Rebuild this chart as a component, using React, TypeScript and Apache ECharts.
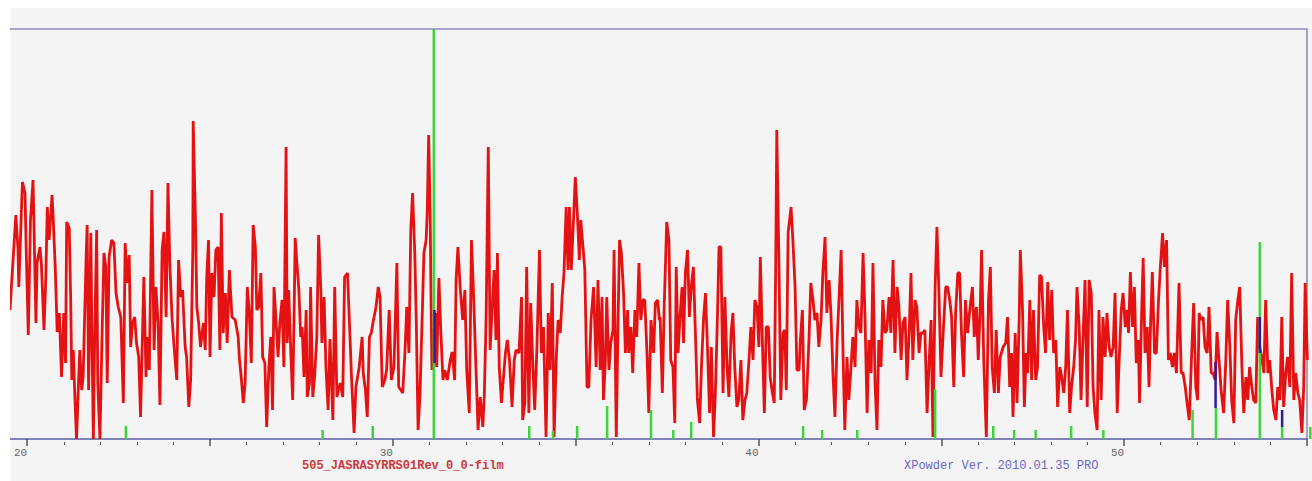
import React, { useEffect, useRef } from "react";
import * as echarts from "echarts";

// Observed XRD pattern: [2θ (deg), intensity (counts, arbitrary)]
const observedPattern: [number, number][] = [
  [19.53,129],[19.69,224],[19.75,189],[19.77,152],[19.87,257],[19.94,246],[19.98,179],[20.03,104],[20.09,219],[20.16,259],
  [20.24,116],[20.27,176],[20.35,192],[20.39,174],[20.46,109],[20.51,162],[20.55,232],[20.60,199],[20.68,244],[20.71,222],
  [20.77,169],[20.82,107],[20.88,126],[20.94,62],[21.00,126],[21.05,76],[21.08,217],[21.15,211],[21.19,139],[21.22,59],
  [21.26,89],[21.31,36],[21.35,0],[21.41,62],[21.44,89],[21.49,49],[21.53,62],[21.61,179],[21.64,214],[21.68,49],
  [21.74,206],[21.77,102],[21.81,0],[21.84,89],[21.90,209],[21.93,56],[21.99,0],[22.04,92],[22.10,186],[22.15,172],
  [22.19,56],[22.24,182],[22.31,199],[22.37,196],[22.43,146],[22.49,132],[22.56,122],[22.63,36],[22.68,196],[22.74,156],
  [22.79,184],[22.83,92],[22.88,116],[22.94,122],[22.99,96],[23.05,82],[23.10,22],[23.19,162],[23.25,62],[23.28,102],
  [23.34,69],[23.41,249],[23.47,89],[23.52,152],[23.58,116],[23.63,34],[23.69,189],[23.74,207],[23.80,122],[23.85,256],
  [23.90,176],[23.96,122],[24.01,96],[24.09,59],[24.14,179],[24.20,142],[24.25,149],[24.32,92],[24.36,82],[24.42,32],
  [24.47,59],[24.53,189],[24.54,318],[24.60,222],[24.64,132],[24.69,116],[24.74,92],[24.82,116],[24.87,89],[24.91,162],
  [24.96,199],[25.00,82],[25.05,166],[25.11,142],[25.16,189],[25.22,192],[25.27,89],[25.31,226],[25.36,106],[25.42,146],
  [25.47,96],[25.53,169],[25.60,122],[25.69,119],[25.77,102],[25.80,82],[25.86,59],[25.91,36],[25.96,56],[26.02,152],
  [26.07,129],[26.13,76],[26.18,214],[26.24,192],[26.28,129],[26.33,132],[26.39,166],[26.44,82],[26.50,76],[26.55,12],
  [26.61,72],[26.66,102],[26.71,29],[26.75,152],[26.80,122],[26.86,82],[26.91,116],[26.97,139],[27.02,72],[27.08,292],
  [27.11,96],[27.15,149],[27.21,86],[27.26,39],[27.30,126],[27.33,201],[27.37,179],[27.43,149],[27.48,102],[27.52,112],
  [27.57,62],[27.63,129],[27.66,42],[27.72,56],[27.75,152],[27.81,42],[27.86,62],[27.92,102],[27.97,204],[28.03,149],
  [28.06,96],[28.12,142],[28.17,72],[28.23,29],[28.28,100],[28.36,19],[28.41,152],[28.47,42],[28.56,56],[28.63,42],
  [28.68,162],[28.76,166],[28.81,119],[28.87,62],[28.94,6],[28.99,52],[29.08,72],[29.16,102],[29.19,66],[29.25,49],
  [29.30,22],[29.36,102],[29.41,106],[29.47,119],[29.54,132],[29.60,152],[29.65,142],[29.71,52],[29.78,59],[29.83,69],
  [29.90,129],[29.96,59],[30.03,72],[30.11,176],[30.16,52],[30.22,49],[30.27,46],[30.33,86],[30.38,132],[30.44,86],
  [30.49,209],[30.54,246],[30.60,186],[30.64,119],[30.69,9],[30.74,42],[30.80,119],[30.85,186],[30.91,199],[30.94,226],
  [30.98,304],[31.02,226],[31.04,152],[31.07,69],[31.16,126],[31.20,72],[31.26,161],[31.31,109],[31.37,59],[31.42,69],
  [31.49,59],[31.57,79],[31.62,87],[31.69,59],[31.73,159],[31.78,192],[31.84,152],[31.91,119],[31.97,149],[32.02,69],
  [32.09,26],[32.15,199],[32.20,152],[32.26,86],[32.33,9],[32.39,42],[32.46,12],[32.50,42],[32.55,119],[32.61,292],
  [32.66,89],[32.71,126],[32.77,169],[32.82,99],[32.86,186],[32.91,72],[32.97,36],[33.02,59],[33.08,86],[33.13,99],
  [33.19,79],[33.26,32],[33.32,79],[33.37,89],[33.45,86],[33.52,142],[33.55,19],[33.61,36],[33.66,172],[33.72,26],
  [33.77,136],[33.83,72],[33.88,29],[33.94,92],[34.01,189],[34.06,86],[34.12,112],[34.19,2],[34.25,126],[34.30,69],
  [34.36,156],[34.41,2],[34.47,82],[34.52,119],[34.58,106],[34.63,142],[34.68,166],[34.74,232],[34.79,169],[34.83,232],
  [34.88,169],[34.94,219],[34.99,262],[35.05,222],[35.10,179],[35.14,219],[35.20,192],[35.25,169],[35.31,52],[35.36,52],
  [35.42,119],[35.49,152],[35.56,72],[35.61,159],[35.67,69],[35.72,142],[35.76,39],[35.81,76],[35.85,142],[35.91,69],
  [35.96,96],[36.02,109],[36.05,189],[36.11,2],[36.16,119],[36.20,199],[36.25,186],[36.31,146],[36.36,86],[36.42,129],
  [36.45,86],[36.51,112],[36.56,66],[36.62,129],[36.67,102],[36.73,176],[36.78,119],[36.84,139],[36.89,139],[36.95,86],
  [37.00,26],[37.06,119],[37.13,86],[37.18,136],[37.24,139],[37.29,119],[37.31,122],[37.37,46],[37.42,132],[37.46,179],
  [37.49,217],[37.55,199],[37.60,79],[37.66,72],[37.71,16],[37.75,172],[37.80,86],[37.86,126],[37.91,152],[37.95,96],
  [38.00,166],[38.06,189],[38.11,122],[38.17,156],[38.22,172],[38.28,99],[38.33,39],[38.39,16],[38.44,72],[38.50,122],
  [38.55,146],[38.61,86],[38.66,26],[38.71,92],[38.77,2],[38.82,46],[38.88,126],[38.92,192],[38.97,192],[39.03,46],
  [39.08,142],[39.14,72],[39.19,42],[39.25,106],[39.30,126],[39.35,72],[39.41,32],[39.46,39],[39.52,79],[39.57,19],
  [39.63,39],[39.68,46],[39.74,79],[39.79,112],[39.85,79],[39.90,139],[39.96,132],[40.01,92],[40.05,182],[40.10,106],
  [40.16,26],[40.21,112],[40.27,112],[40.32,62],[40.38,46],[40.43,36],[40.47,172],[40.50,309],[40.56,172],[40.61,39],
  [40.67,106],[40.72,109],[40.76,49],[40.81,206],[40.89,232],[40.94,199],[41.00,152],[41.05,69],[41.11,69],[41.14,96],
  [41.20,129],[41.25,29],[41.31,39],[41.38,99],[41.43,156],[41.49,139],[41.54,119],[41.60,126],[41.65,92],[41.71,119],
  [41.76,166],[41.82,202],[41.87,126],[41.93,159],[41.98,126],[42.04,62],[42.09,22],[42.15,99],[42.20,139],[42.26,189],
  [42.31,89],[42.36,9],[42.42,82],[42.47,39],[42.53,72],[42.58,102],[42.64,72],[42.69,139],[42.75,112],[42.80,106],
  [42.86,186],[42.91,126],[42.97,26],[43.02,99],[43.08,66],[43.13,176],[43.19,52],[43.24,9],[43.29,99],[43.35,72],
  [43.40,139],[43.46,106],[43.51,109],[43.57,142],[43.62,106],[43.68,179],[43.73,86],[43.79,152],[43.84,132],[43.90,79],
  [43.95,116],[44.01,122],[44.06,59],[44.12,106],[44.17,166],[44.22,79],[44.28,139],[44.33,132],[44.39,86],[44.44,106],
  [44.50,106],[44.55,109],[44.61,26],[44.66,72],[44.72,119],[44.77,2],[44.83,152],[44.88,212],[44.94,139],[44.99,62],
  [45.05,106],[45.12,152],[45.17,152],[45.23,139],[45.28,122],[45.34,52],[45.39,126],[45.45,166],[45.50,166],[45.55,106],
  [45.61,62],[45.66,139],[45.72,106],[45.77,126],[45.85,152],[45.90,102],[45.96,132],[46.01,79],[46.07,139],[46.10,189],
  [46.16,79],[46.23,2],[46.29,139],[46.34,172],[46.39,72],[46.45,46],[46.50,109],[46.56,46],[46.61,82],[46.69,92],
  [46.76,96],[46.81,122],[46.87,52],[46.92,86],[46.96,22],[47.02,106],[47.07,36],[47.13,122],[47.16,189],[47.22,129],
  [47.27,32],[47.32,86],[47.36,66],[47.42,139],[47.47,59],[47.52,129],[47.58,59],[47.63,72],[47.69,164],[47.74,162],
  [47.80,112],[47.85,86],[47.91,157],[47.96,99],[48.02,149],[48.07,86],[48.13,99],[48.18,32],[48.24,72],[48.29,62],
  [48.35,46],[48.40,72],[48.45,129],[48.51,26],[48.56,52],[48.62,72],[48.67,99],[48.71,152],[48.77,112],[48.82,39],
  [48.88,106],[48.93,159],[48.99,32],[49.04,159],[49.10,146],[49.15,52],[49.20,26],[49.26,9],[49.31,129],[49.37,39],
  [49.42,122],[49.48,82],[49.53,126],[49.59,92],[49.64,82],[49.70,92],[49.75,146],[49.81,26],[49.86,76],[49.92,129],
  [49.97,146],[50.03,112],[50.08,129],[50.12,106],[50.17,167],[50.23,112],[50.28,152],[50.33,76],[50.39,99],[50.42,36],
  [50.48,129],[50.52,181],[50.57,86],[50.63,112],[50.68,52],[50.72,112],[50.77,167],[50.83,86],[50.88,86],[50.94,139],
  [50.99,172],[51.05,206],[51.10,172],[51.16,199],[51.21,79],[51.26,86],[51.32,72],[51.37,86],[51.43,66],[51.50,156],
  [51.56,66],[51.61,66],[51.67,52],[51.72,36],[51.78,19],[51.85,89],[51.90,136],[51.96,52],[52.01,39],[52.05,126],
  [52.10,119],[52.16,122],[52.21,92],[52.27,86],[52.32,132],[52.38,66],[52.43,66],[52.49,59],[52.54,107],[52.60,76],
  [52.65,49],[52.72,26],[52.78,79],[52.83,139],[52.89,92],[52.94,39],[53.00,16],[53.05,119],[53.11,139],[53.16,152],
  [53.22,72],[53.27,26],[53.33,62],[53.38,39],[53.43,72],[53.49,52],[53.54,39],[53.60,36],[53.65,122],[53.71,92],
  [53.76,82],[53.82,66],[53.87,139],[53.93,66],[53.98,79],[54.04,49],[54.09,29],[54.15,19],[54.20,52],[54.26,39],
  [54.31,122],[54.36,32],[54.42,66],[54.47,82],[54.53,52],[54.58,166],[54.64,39],[54.69,66],[54.75,46],[54.80,39],
  [54.86,6],[54.91,52],[54.95,156],[55.01,79],
];

// Reference pattern sticks (green)
const refPositions = [22.70, 28.08, 29.45, 31.12, 33.73, 34.38, 35.04, 35.86, 37.06, 37.67, 38.16, 41.22, 41.74, 42.70, 44.83, 46.42, 46.99, 47.58, 48.55, 49.43, 51.87, 52.51, 53.71, 54.32, 55.09];
const refHeights = [13, 9, 13, 410, 13, 8, 13, 33, 29, 9, 17, 13, 9, 9, 50, 13, 9, 9, 13, 9, 29, 31, 197, 12, 12];

// Second-phase marks (dark blue segments): [2θ, from, to]
const phase2Marks: [number, number, number][] = [
  [31.14, 76, 129],
  [52.50, 31, 77],
  [53.71, 86, 122],
  [54.32, 12, 29],
];

const majorTicks = [20, 25, 30, 35, 40, 45, 50, 55];
const tickLabels = [20, 30, 40, 50];
const minorTicks = [21, 22, 23, 24, 26, 27, 28, 29, 31, 32, 33, 34, 36, 37, 38, 39, 41, 42, 43, 44, 46, 47, 48, 49, 51, 52, 53, 54];

const sampleName = "505_JASRASYRRS01Rev_0_0-film";
const softwareName = "XPowder Ver. 2010.01.35 PRO";

const X_MIN = 19.53;
const X_MAX = 55.0;
const Y_MAX = 410;

export default function App() {
  const ref = useRef<HTMLDivElement>(null);

  useEffect(() => {
    if (!ref.current) return;
    const chart = echarts.init(ref.current, undefined, { renderer: "svg" });
    const mono = '"Liberation Mono", "DejaVu Sans Mono", monospace';

    const stickData = refPositions.map((p, i) => [p, refHeights[i]]);

    chart.setOption({
      animation: false,
      backgroundColor: "#f4f4f4",
      grid: { left: 0, right: 5, top: 21, bottom: 42, containLabel: false },
      xAxis: [
        {
          type: "value",
          min: X_MIN,
          max: X_MAX,
          position: "bottom",
          axisLine: { show: true, lineStyle: { color: "#5b5ba6", width: 1.5 } },
          axisTick: {
            show: true,
            customValues: majorTicks,
            length: 7,
            lineStyle: { color: "#555", width: 1.5 },
          },
          axisLabel: {
            show: true,
            customValues: tickLabels,
            align: "right",
            margin: 8,
            fontFamily: mono,
            fontSize: 11,
            color: "#666",
            formatter: (v: number) => String(Math.round(v)),
          },
          splitLine: { show: false },
        },
        {
          type: "value",
          min: X_MIN,
          max: X_MAX,
          position: "top",
          axisLine: { show: true, lineStyle: { color: "#a8a4cc", width: 2 } },
          axisTick: { show: false },
          axisLabel: { show: false },
          splitLine: { show: false },
        },
        {
          type: "value",
          min: X_MIN,
          max: X_MAX,
          position: "bottom",
          offset: 3,
          axisLine: { show: false },
          axisTick: {
            show: true,
            customValues: minorTicks,
            length: 3,
            lineStyle: { color: "#555", width: 1 },
          },
          axisLabel: { show: false },
          splitLine: { show: false },
        },
      ],
      yAxis: {
        type: "value",
        min: 0,
        max: Y_MAX,
        position: "right",
        axisLine: { show: true, lineStyle: { color: "#8c88aa", width: 1.5 } },
        axisTick: { show: false },
        axisLabel: { show: false },
        splitLine: { show: false },
      },
      series: [
        {
          type: "line",
          name: "observed",
          xAxisIndex: 0,
          data: observedPattern,
          showSymbol: false,
          symbol: "none",
          lineStyle: { color: "#e41212", width: 2.8 },
          z: 2,
          silent: true,
        },
        {
          type: "custom",
          name: "reference",
          xAxisIndex: 0,
          data: stickData,
          encode: { x: 0, y: 1 },
          clip: false,
          z: 3,
          silent: true,
          renderItem: (params: any, api: any) => {
            const x = api.value(0);
            const h = api.value(1);
            const p0 = api.coord([x, 0]);
            const p1 = api.coord([x, h]);
            return {
              type: "line",
              shape: { x1: p0[0], y1: p0[1], x2: p1[0], y2: p1[1] },
              style: { stroke: "#3ed43e", lineWidth: 2.5 },
            };
          },
        },
        {
          type: "custom",
          name: "phase2",
          xAxisIndex: 0,
          data: phase2Marks,
          encode: { x: 0, y: [1, 2] },
          z: 4,
          silent: true,
          renderItem: (params: any, api: any) => {
            const x = api.value(0);
            const p0 = api.coord([x, api.value(1)]);
            const p1 = api.coord([x, api.value(2)]);
            return {
              type: "line",
              shape: { x1: p0[0], y1: p0[1], x2: p1[0], y2: p1[1] },
              style: { stroke: "#2a1f9a", lineWidth: 2.5 },
            };
          },
        },
      ],
      graphic: [
        {
          type: "text",
          left: 292,
          top: 452,
          style: { text: sampleName, fill: "#cc3838", font: `bold 12px ${mono}` },
        },
        {
          type: "text",
          left: 894,
          top: 452,
          style: { text: softwareName, fill: "#6a68c8", font: `12px ${mono}` },
        },
      ],
    });

    return () => chart.dispose();
  }, []);

  return (
    <div
      ref={ref}
      style={{ position: "fixed", left: 10, top: 8, width: 1302, height: 473, background: "#f4f4f4" }}
    />
  );
}
